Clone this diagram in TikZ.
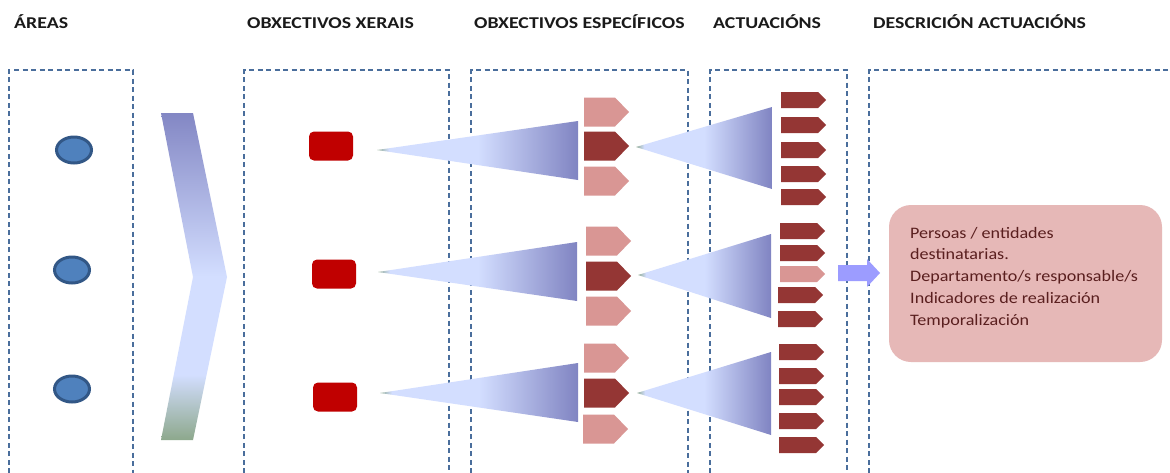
\documentclass[tikz,border=0pt]{standalone}
\usepackage{fontspec}
\setmainfont{Carlito}
\usepackage{graphicx}
\usetikzlibrary{shapes.geometric}
\definecolor{wtip}{HTML}{8FAA92}
\definecolor{wlight}{HTML}{D3DEFF}
\definecolor{wdark}{HTML}{8084C2}
\definecolor{ctop}{HTML}{8387C4}
\definecolor{cbot}{HTML}{8DA88C}
\definecolor{dashc}{HTML}{4A6E9C}
\definecolor{ellf}{HTML}{4F81BD}
\definecolor{elld}{HTML}{325786}
\definecolor{redr}{HTML}{C00000}
\definecolor{pinkp}{HTML}{D99694}
\definecolor{darkp}{HTML}{943634}
\definecolor{arrc}{HTML}{9C9CFF}
\definecolor{descf}{HTML}{E6B8B7}
\definecolor{desct}{HTML}{5A1F1F}
\definecolor{hdrc}{HTML}{1A1A1A}
\pgfdeclarehorizontalshading{wedgeshade}{100bp}{color(0bp)=(wtip); color(25bp)=(wtip); color(28bp)=(wlight); color(50bp)=(wlight); color(75bp)=(wdark); color(100bp)=(wdark)}
\pgfdeclareverticalshading{chevshade}{100bp}{color(0bp)=(cbot); color(25bp)=(cbot); color(35bp)=(wlight); color(50bp)=(wlight); color(75bp)=(ctop); color(100bp)=(ctop)}
\newcommand\mypent[6]{%
  \fill[#6] (#1,#2-#4/2) -- (#1+#3-#5,#2-#4/2) -- (#1+#3,#2) -- (#1+#3-#5,#2+#4/2) -- (#1,#2+#4/2) -- cycle;}
\newcommand\mywedge[4]{%
  \shade[shading=wedgeshade] (#1) -- (#2,#3) -- (#2,#4) -- cycle;}
\begin{document}
\begin{tikzpicture}[x=1pt,y=-1pt,
  hdr/.style={anchor=base west,inner sep=0pt,text=hdrc,font={\fontsize{16.5}{20}\selectfont\bfseries}},
  dbox/.style={draw=dashc,line width=1.6pt,dash pattern=on 5pt off 3.5pt},
  area/.style={ellipse,draw=elld,fill=ellf,line width=3pt,minimum width=35pt,minimum height=26pt,inner sep=0pt,outer sep=0pt},
  goal/.style={rectangle,rounded corners=5pt,fill=redr,minimum width=44pt,minimum height=29pt,inner sep=0pt},
  desc/.style={rectangle,rounded corners=22pt,fill=descf,minimum width=273pt,minimum height=157pt,inner sep=0pt},
  desctext/.style={anchor=base west,inner sep=0pt,text=desct,font={\fontsize{16}{21.75}\selectfont}}]
\useasboundingbox (0,0) rectangle (1170,472);
\fill[white] (0,0) rectangle (1170,472);
% headers
\node[hdr] (h1) at (14,28) {\scalebox{1.2}[1]{ÁREAS}};
\node[hdr] (h2) at (247,28) {\scalebox{1.2}[1]{OBXECTIVOS XERAIS}};
\node[hdr] (h3) at (474,28) {\scalebox{1.2}[1]{OBXECTIVOS ESPECÍFICOS}};
\node[hdr] (h4) at (713,28) {\scalebox{1.2}[1]{ACTUACIÓNS}};
\node[hdr] (h5) at (873,28) {\scalebox{1.2}[1]{DESCRICIÓN ACTUACIÓNS}};
% dashed boxes
\begin{scope}
\clip (0,0) rectangle (1170,472);
\draw[dbox] (9,490) -- (9,70) -- (133,70) -- (133,490);
\draw[dbox] (244,490) -- (244,70) -- (449,70) -- (449,490);
\draw[dbox] (471,490) -- (471,70) -- (688,70) -- (688,490);
\draw[dbox] (710,490) -- (710,70) -- (847,70) -- (847,490);
\draw[dbox] (869,490) -- (869,70) -- (1190,70);
\end{scope}
% areas
\node[area] (a1) at (74,150) {};
\node[area] (a2) at (72,270) {};
\node[area] (a3) at (72,389) {};
% chevron
\shade[shading=chevshade] (161,113) -- (193,113) -- (227,277) -- (193,440) -- (161,440) -- (193,277) -- cycle;
% general goals
\node[goal] (g1) at (331,146) {};
\node[goal] (g2) at (334,274) {};
\node[goal] (g3) at (335,397) {};
% wedges
\coordinate (t11) at (377,150);
\coordinate (t12) at (378,272);
\coordinate (t13) at (380,393);
\coordinate (t21) at (636,147);
\coordinate (t22) at (638,275);
\coordinate (t23) at (637,393);
\mywedge{t11}{578}{121}{180}
\mywedge{t12}{577}{242}{301}
\mywedge{t13}{578}{363}{422}
\mywedge{t21}{772}{107}{189}
\mywedge{t22}{771}{234}{318}
\mywedge{t23}{771}{352}{435}
% specific goals
\mypent{584}{112}{45}{29}{14}{pinkp}
\mypent{584}{146}{45}{29}{14}{darkp}
\mypent{584}{181}{45}{29}{14}{pinkp}
\mypent{586}{241}{45}{29}{14}{pinkp}
\mypent{586}{276}{45}{29}{14}{darkp}
\mypent{586}{311}{45}{29}{14}{pinkp}
\mypent{584}{358}{45}{29}{14}{pinkp}
\mypent{584}{393}{45}{29}{14}{darkp}
\mypent{583}{429}{45}{29}{14}{pinkp}
% actions
\mypent{781}{100}{45}{16}{8}{darkp}
\mypent{781}{125}{45}{16}{8}{darkp}
\mypent{781}{150}{45}{16}{8}{darkp}
\mypent{781}{174}{45}{16}{8}{darkp}
\mypent{781}{197}{45}{16}{8}{darkp}
\mypent{780}{231}{45}{16}{8}{darkp}
\mypent{780}{253}{45}{16}{8}{darkp}
\mypent{780}{274}{45}{16}{8}{pinkp}
\mypent{778}{295}{45}{16}{8}{darkp}
\mypent{778}{319}{45}{16}{8}{darkp}
\mypent{779}{352}{45}{16}{8}{darkp}
\mypent{779}{376}{45}{16}{8}{darkp}
\mypent{779}{397}{45}{16}{8}{darkp}
\mypent{779}{421}{45}{16}{8}{darkp}
\mypent{779}{445}{45}{16}{8}{darkp}
% arrow
\fill[arrc] (838,265) -- (867,265) -- (867,259) -- (880,273) -- (867,287) -- (867,281) -- (838,281) -- cycle;
% description
\node[desc] (d) at (1025.5,283.5) {};
\node[desctext] (dt) at (910,238) {\scalebox{1.13}[1]{\begin{tabular}[t]{@{}l@{}}Persoas / entidades\\destinatarias.\\Departamento/s responsable/s\\Indicadores de realización\\Temporalización\end{tabular}}};
\end{tikzpicture}
\end{document}
